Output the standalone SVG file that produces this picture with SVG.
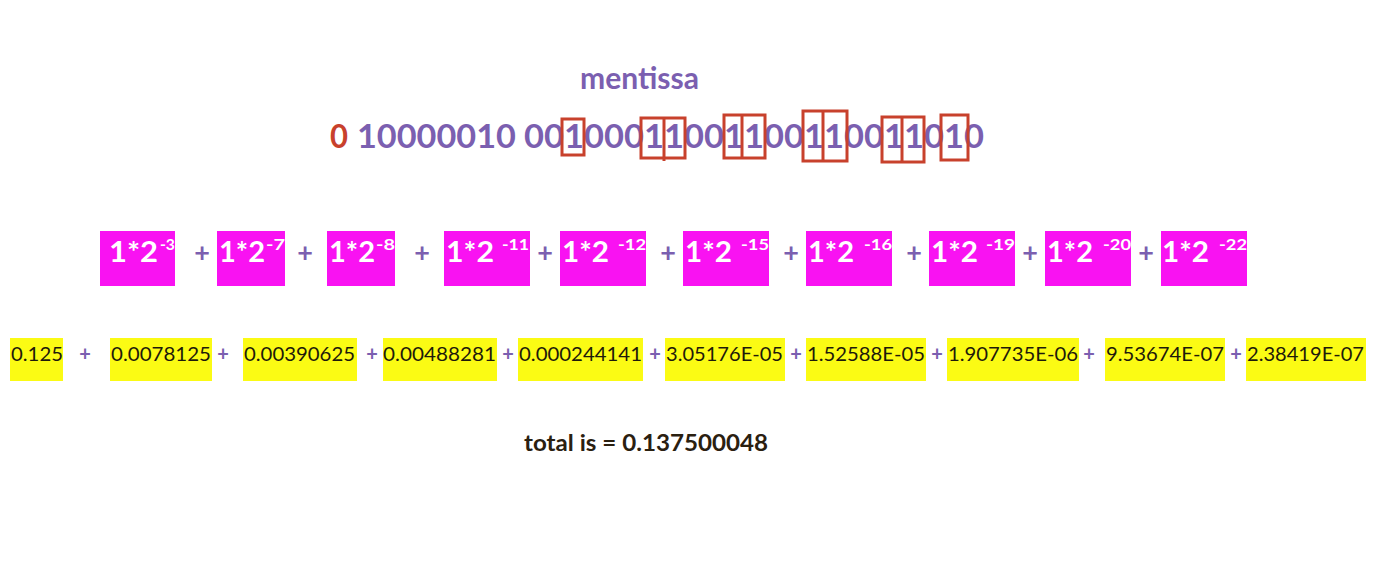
<svg xmlns="http://www.w3.org/2000/svg" width="1378" height="570" viewBox="0 0 1378 570">
<style>
.pur{fill:#7b5fb0;font-family:Lato,"Open Sans","Liberation Sans",sans-serif;font-weight:bold}
.red{fill:#c8412c;font-family:Lato,"Open Sans","Liberation Sans",sans-serif;font-weight:bold}
.mag{fill:#f912f2}
.yel{fill:#fbfb14}
.wt{fill:#ffffff;font-family:Lato,"Open Sans","Liberation Sans",sans-serif;font-weight:bold;font-size:29px}
.ws{fill:#ffffff;font-family:Lato,"Open Sans","Liberation Sans",sans-serif;font-weight:bold;font-size:16px}
.yt{fill:#1e1a0a;font-family:Lato,"Open Sans","Liberation Sans",sans-serif;font-size:20px}
.bx{fill:none;stroke:#c8412c;stroke-width:3}
.op1{fill:#7b5fb0;font-family:Lato,"Open Sans","Liberation Sans",sans-serif;font-weight:bold;font-size:27px;text-anchor:middle}
.op2{fill:#7b5fb0;font-family:Lato,"Open Sans","Liberation Sans",sans-serif;font-weight:bold;font-size:20px;text-anchor:middle}
</style>
<rect width="1378" height="570" fill="#ffffff"/>
<g id="title">
<text class="pur" x="580" y="89" font-size="30" textLength="119" lengthAdjust="spacingAndGlyphs">mentissa</text>
</g>
<g id="binary">
<text class="red" x="330" y="148" font-size="33" textLength="18" lengthAdjust="spacingAndGlyphs">0</text>
<text class="pur" x="357" y="148" font-size="33" textLength="159" lengthAdjust="spacingAndGlyphs">10000010</text>
<text class="pur" x="524" y="148" font-size="33" textLength="460" lengthAdjust="spacingAndGlyphs">00100011001100110011010</text>
<rect class="bx" x="562" y="119" width="22" height="36"/>
<rect class="bx" x="641" y="118" width="44" height="40"/>
<line class="bx" x1="664" y1="118" x2="664" y2="161"/>
<rect class="bx" x="724" y="115" width="41" height="43"/>
<line class="bx" x1="742" y1="115" x2="742" y2="158"/>
<rect class="bx" x="803" y="111" width="44" height="50"/>
<line class="bx" x1="823" y1="110" x2="823" y2="161"/>
<rect class="bx" x="882" y="117" width="42" height="45"/>
<line class="bx" x1="902" y1="117" x2="902" y2="162"/>
<rect class="bx" x="941" y="115" width="27" height="45"/>
</g>
<g id="term1"><rect class="mag" x="100" y="231" width="75" height="55"/><text class="wt" x="109" y="262" textLength="49" lengthAdjust="spacingAndGlyphs">1*2</text><text class="ws" x="160" y="250" textLength="15" lengthAdjust="spacingAndGlyphs">-3</text></g>
<g id="term2"><rect class="mag" x="217" y="231" width="68" height="55"/><text class="wt" x="219" y="262" textLength="46" lengthAdjust="spacingAndGlyphs">1*2</text><text class="ws" x="266" y="250" textLength="19" lengthAdjust="spacingAndGlyphs">-7</text></g>
<g id="term3"><rect class="mag" x="327" y="231" width="68" height="55"/><text class="wt" x="329" y="262" textLength="46" lengthAdjust="spacingAndGlyphs">1*2</text><text class="ws" x="376" y="250" textLength="19" lengthAdjust="spacingAndGlyphs">-8</text></g>
<g id="term4"><rect class="mag" x="444" y="231" width="86" height="55"/><text class="wt" x="446" y="262" textLength="48" lengthAdjust="spacingAndGlyphs">1*2</text><text class="ws" x="502" y="250" textLength="27" lengthAdjust="spacingAndGlyphs">-11</text></g>
<g id="term5"><rect class="mag" x="560" y="231" width="86" height="55"/><text class="wt" x="562" y="262" textLength="47" lengthAdjust="spacingAndGlyphs">1*2</text><text class="ws" x="618" y="250" textLength="28" lengthAdjust="spacingAndGlyphs">-12</text></g>
<g id="term6"><rect class="mag" x="683" y="231" width="86" height="55"/><text class="wt" x="685" y="262" textLength="47" lengthAdjust="spacingAndGlyphs">1*2</text><text class="ws" x="741" y="250" textLength="28" lengthAdjust="spacingAndGlyphs">-15</text></g>
<g id="term7"><rect class="mag" x="806" y="231" width="86" height="55"/><text class="wt" x="808" y="262" textLength="46" lengthAdjust="spacingAndGlyphs">1*2</text><text class="ws" x="864" y="250" textLength="28" lengthAdjust="spacingAndGlyphs">-16</text></g>
<g id="term8"><rect class="mag" x="929" y="231" width="86" height="55"/><text class="wt" x="931" y="262" textLength="47" lengthAdjust="spacingAndGlyphs">1*2</text><text class="ws" x="986" y="250" textLength="29" lengthAdjust="spacingAndGlyphs">-19</text></g>
<g id="term9"><rect class="mag" x="1045" y="231" width="86" height="55"/><text class="wt" x="1047" y="262" textLength="46" lengthAdjust="spacingAndGlyphs">1*2</text><text class="ws" x="1103" y="250" textLength="28" lengthAdjust="spacingAndGlyphs">-20</text></g>
<g id="term10"><rect class="mag" x="1161" y="231" width="86" height="55"/><text class="wt" x="1162" y="262" textLength="47" lengthAdjust="spacingAndGlyphs">1*2</text><text class="ws" x="1219" y="250" textLength="28" lengthAdjust="spacingAndGlyphs">-22</text></g>
<g id="val1"><rect class="yel" x="10" y="338" width="53" height="43"/><text class="yt" x="11" y="361" textLength="52" lengthAdjust="spacingAndGlyphs">0.125</text></g>
<g id="val2"><rect class="yel" x="110" y="338" width="102" height="43"/><text class="yt" x="111" y="361" textLength="100" lengthAdjust="spacingAndGlyphs">0.0078125</text></g>
<g id="val3"><rect class="yel" x="243" y="338" width="114" height="43"/><text class="yt" x="244" y="361" textLength="111" lengthAdjust="spacingAndGlyphs">0.00390625</text></g>
<g id="val4"><rect class="yel" x="383" y="338" width="114" height="43"/><text class="yt" x="383" y="361" textLength="113" lengthAdjust="spacingAndGlyphs">0.00488281</text></g>
<g id="val5"><rect class="yel" x="518" y="338" width="125" height="43"/><text class="yt" x="519" y="361" textLength="123" lengthAdjust="spacingAndGlyphs">0.000244141</text></g>
<g id="val6"><rect class="yel" x="665" y="338" width="120" height="43"/><text class="yt" x="666" y="361" textLength="117" lengthAdjust="spacingAndGlyphs">3.05176E-05</text></g>
<g id="val7"><rect class="yel" x="806" y="338" width="120" height="43"/><text class="yt" x="807" y="361" textLength="118" lengthAdjust="spacingAndGlyphs">1.52588E-05</text></g>
<g id="val8"><rect class="yel" x="947" y="338" width="132" height="43"/><text class="yt" x="948" y="361" textLength="130" lengthAdjust="spacingAndGlyphs">1.907735E-06</text></g>
<g id="val9"><rect class="yel" x="1105" y="338" width="120" height="43"/><text class="yt" x="1106" y="361" textLength="118" lengthAdjust="spacingAndGlyphs">9.53674E-07</text></g>
<g id="val10"><rect class="yel" x="1246" y="338" width="120" height="43"/><text class="yt" x="1247" y="361" textLength="117" lengthAdjust="spacingAndGlyphs">2.38419E-07</text></g>
<g id="operators">
<text class="op1" x="202" y="262">+</text>
<text class="op1" x="305" y="262">+</text>
<text class="op1" x="422" y="262">+</text>
<text class="op1" x="545" y="262">+</text>
<text class="op1" x="668" y="262">+</text>
<text class="op1" x="791" y="262">+</text>
<text class="op1" x="914" y="262">+</text>
<text class="op1" x="1030" y="262">+</text>
<text class="op1" x="1146" y="262">+</text>
<text class="op2" x="85" y="361">+</text>
<text class="op2" x="223" y="361">+</text>
<text class="op2" x="372" y="361">+</text>
<text class="op2" x="508" y="361">+</text>
<text class="op2" x="655" y="361">+</text>
<text class="op2" x="796" y="361">+</text>
<text class="op2" x="937" y="361">+</text>
<text class="op2" x="1089" y="361">+</text>
<text class="op2" x="1236" y="361">+</text>
</g>
<g id="total">
<text x="524" y="451" fill="#2a2010" font-family="Lato,'Open Sans','Liberation Sans',sans-serif" font-weight="bold" font-size="22" textLength="244" lengthAdjust="spacingAndGlyphs">total is = 0.137500048</text>
</g>
</svg>
